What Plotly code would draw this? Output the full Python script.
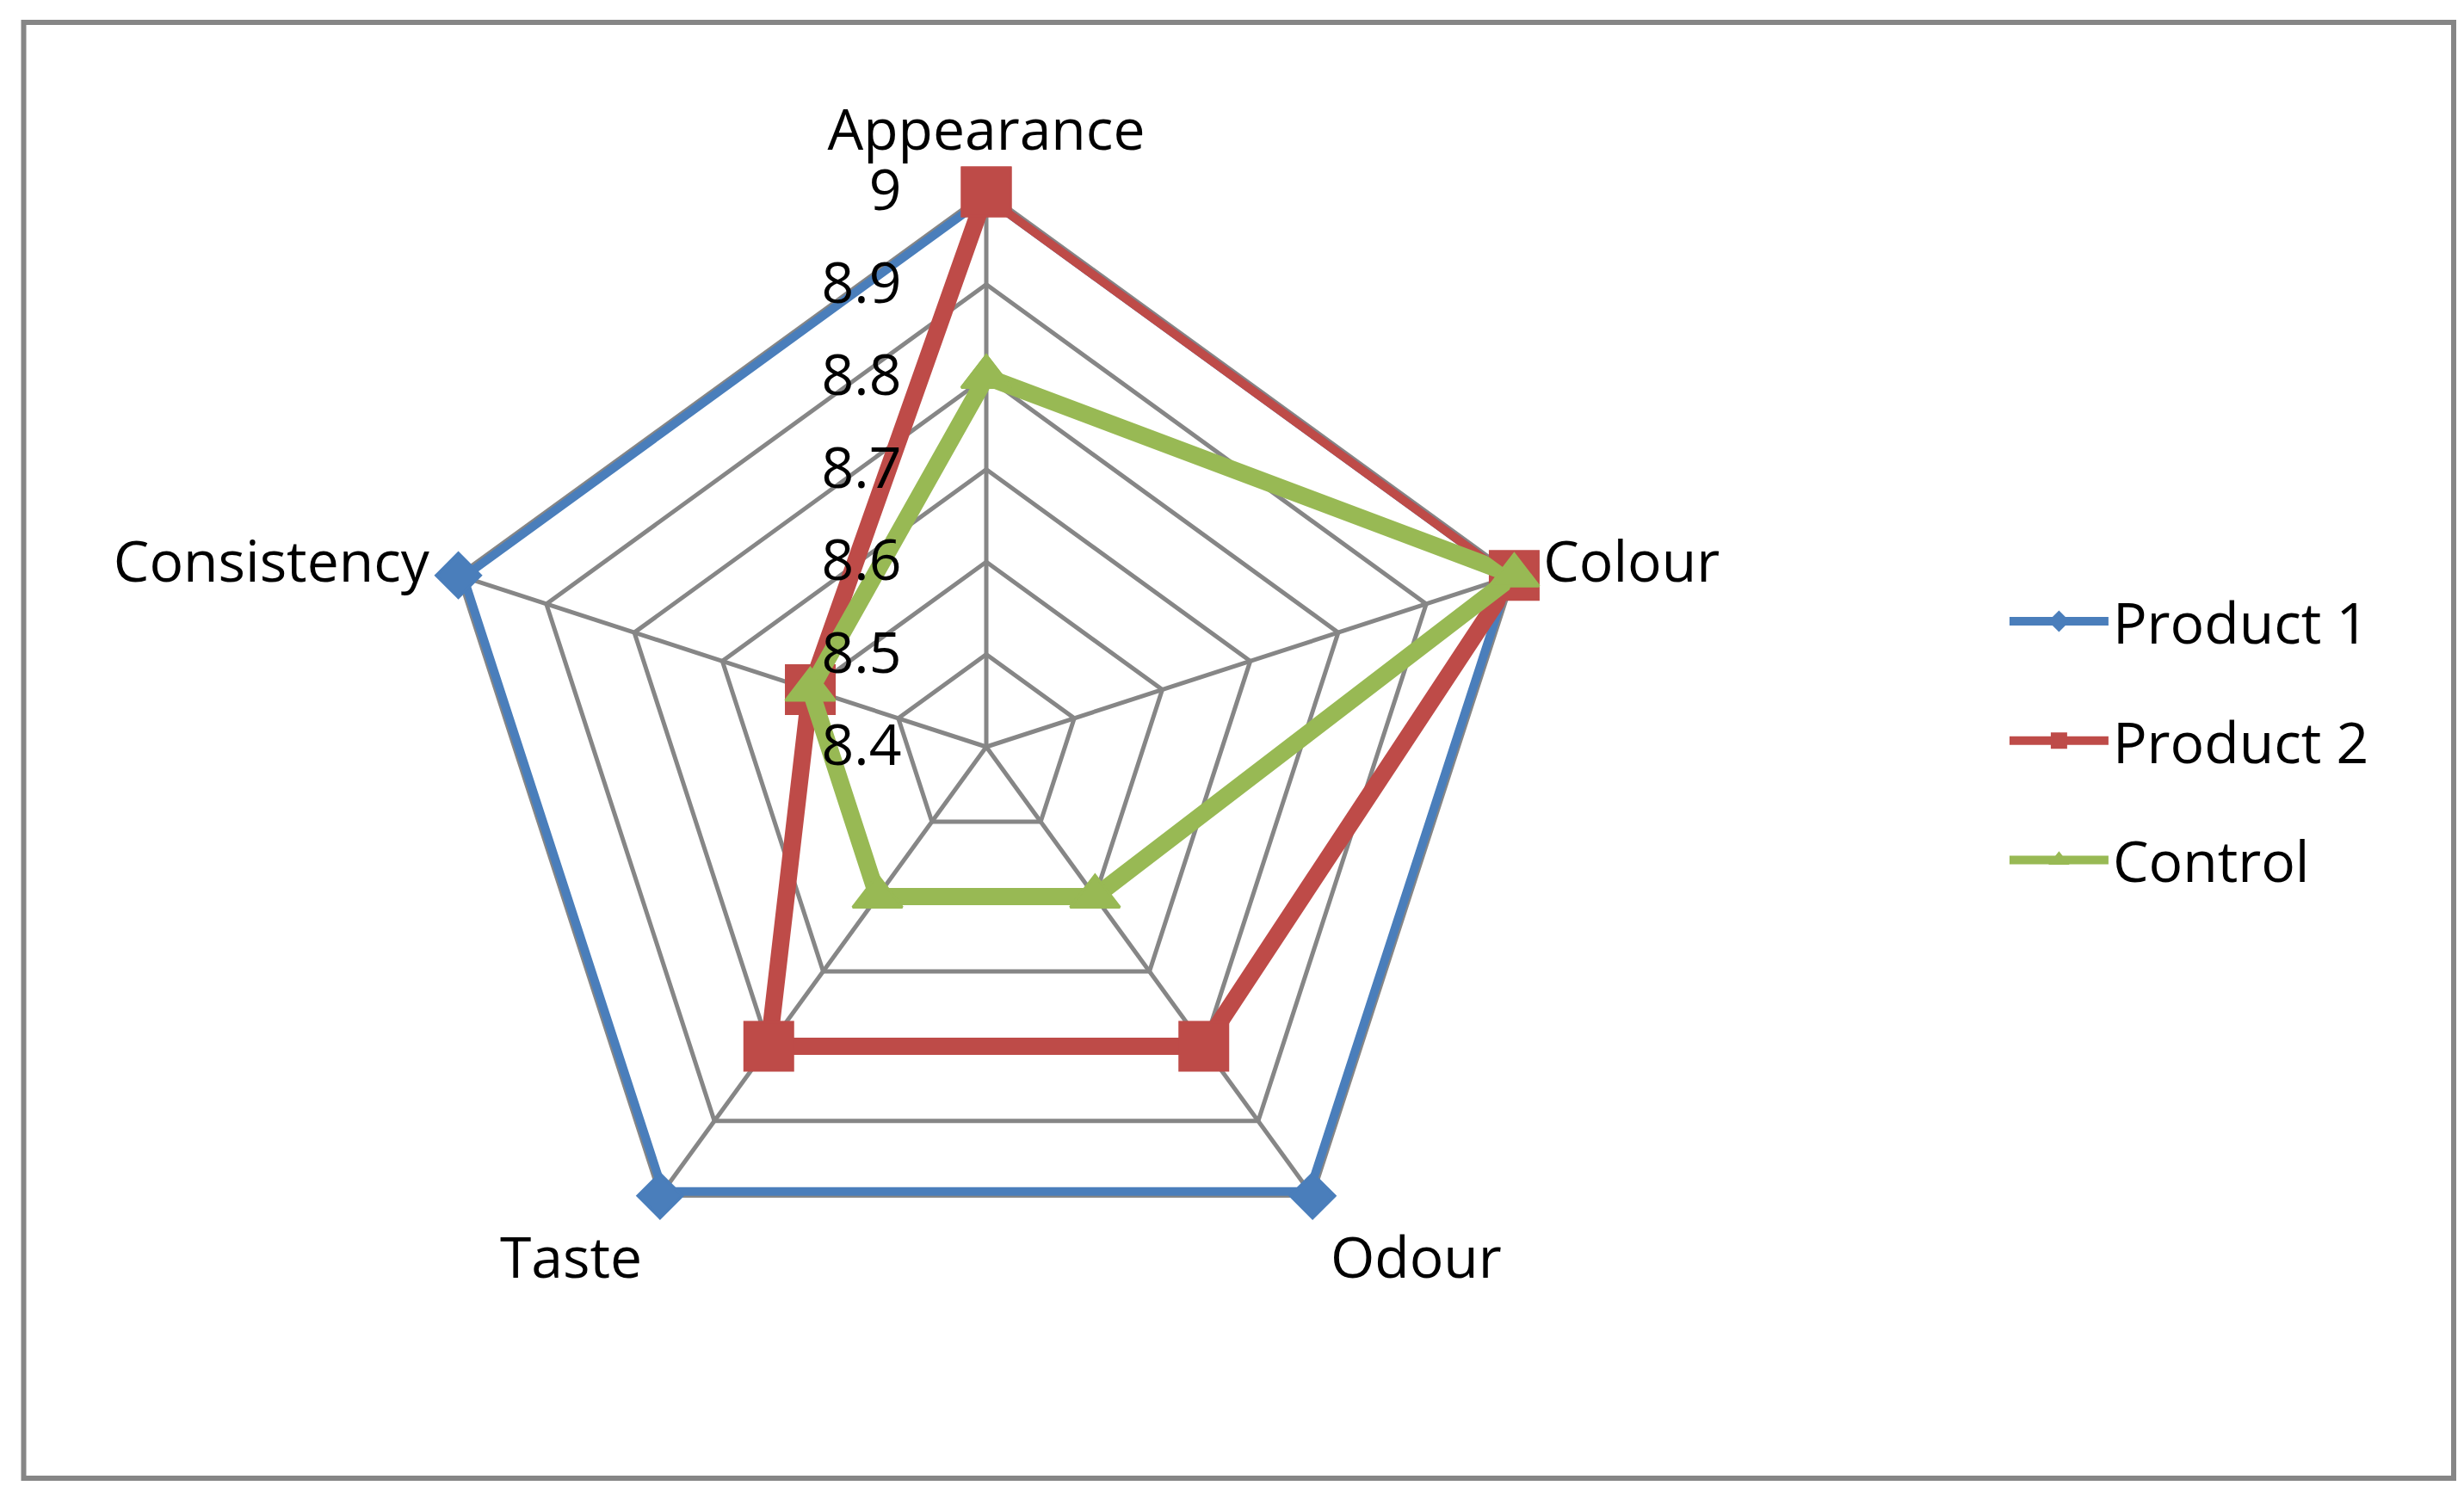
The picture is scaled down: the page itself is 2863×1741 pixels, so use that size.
import plotly.graph_objects as go

# categories and scores
categories = ["Appearance", "Colour", "Odour", "Taste", "Consistency"]
product_1 = [9.0, 9.0, 9.0, 9.0, 9.0]
product_2 = [9.0, 9.0, 8.8, 8.8, 8.6]
control = [8.8, 9.0, 8.6, 8.6, 8.6]
radial_ticks = [8.4, 8.5, 8.6, 8.7, 8.8, 8.9, 9.0]
radial_labels = ["8.4", "8.5", "8.6", "8.7", "8.8", "8.9", "9"]

W, H = 2863, 1741
FONT = "Open Sans"
GRID = "#868686"

series = [
    ("Product 1", product_1, "#4A7EBB", "diamond", 40),
    ("Product 2", product_2, "#BE4B48", "square", 56),
    ("Control", control, "#98B954", "triangle-up", 50),
]


def close(vals):
    # repeat first point so the polygon closes
    return list(vals) + [vals[0]]


fig = go.Figure()
for name, vals, color, symbol, size in series:
    fig.add_trace(go.Scatterpolar(
        r=close(vals),
        theta=close(categories),
        mode="lines+markers",
        name=name,
        legendgroup=name,
        cliponaxis=False,
        line=dict(color=color, width=20),
        marker=dict(symbol=symbol, size=size, color=color,
                    line=dict(color=color, width=3)),
    ))

# empty overlay subplot, only there so the radial labels sit above the lines
fig.add_trace(go.Scatterpolar(
    r=product_1, theta=categories, mode="none",
    showlegend=False, hoverinfo="skip", subplot="polar2",
))

# square polar domain centred on the web
cx, cy, rad = 1138, 860, 645
domain = dict(x=[(cx - rad) / W, (cx + rad) / W],
              y=[(H - cy - rad) / H, (H - cy + rad) / H])

radial_common = dict(
    range=[8.4, 9.0],
    tickvals=radial_ticks,
    ticktext=radial_labels,
    angle=90,
    tickangle=90,
    side="counterclockwise",
    showline=False,
    ticks="outside",
    ticklen=75,
    tickcolor="rgba(0,0,0,0)",
    tickfont=dict(size=66, family=FONT),
)

fig.update_layout(
    width=W, height=H,
    margin=dict(l=0, r=0, t=0, b=0),
    paper_bgcolor="white",
    font=dict(family=FONT, size=66, color="black"),
    polar=dict(
        domain=domain,
        bgcolor="white",
        gridshape="linear",
        radialaxis=dict(radial_common, showticklabels=False,
                        gridcolor=GRID, gridwidth=4.5, layer="below traces"),
        angularaxis=dict(
            rotation=90,
            direction="clockwise",
            gridcolor=GRID,
            gridwidth=4.5,
            showline=True,
            linecolor=GRID,
            linewidth=4.5,
            ticks="outside",
            ticklen=20,
            tickcolor="rgba(0,0,0,0)",
            layer="below traces",
            tickfont=dict(size=66, family=FONT),
        ),
    ),
    polar2=dict(
        domain=domain,
        bgcolor="rgba(0,0,0,0)",
        gridshape="linear",
        radialaxis=dict(radial_common, showgrid=False, layer="above traces"),
        angularaxis=dict(rotation=90, direction="clockwise", visible=False),
    ),
    legend=dict(
        x=0.811, y=0.51, xanchor="left", yanchor="middle",
        font=dict(size=66, family=FONT),
        itemwidth=115,
        tracegroupgap=50,
        traceorder="grouped",
        bgcolor="rgba(0,0,0,0)",
    ),
    shapes=[dict(type="rect", xref="paper", yref="paper",
                 x0=19.5 / W, x1=2843 / W, y0=1 - 1710 / H, y1=1 - 18 / H,
                 line=dict(color=GRID, width=6), layer="below")],
)

fig.write_html("out.html")
